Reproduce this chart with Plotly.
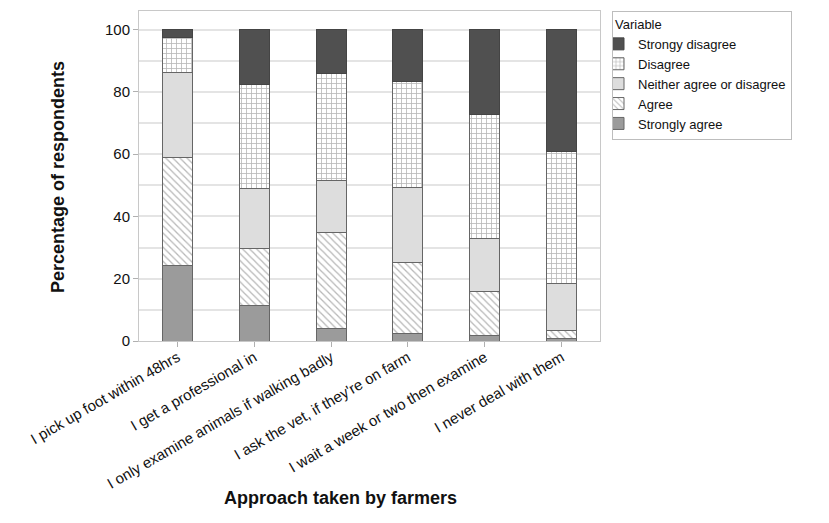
import plotly.graph_objects as go

approaches = [
    "I pick up foot within 48hrs",
    "I get a professional in",
    "I only examine animals if walking badly",
    "I ask the vet, if they're on farm",
    "I wait a week or two then examine",
    "I never deal with them",
]

strongly_agree = [24.4, 11.3, 4.1, 2.4, 1.9, 0.9]
agree = [34.4, 18.3, 30.8, 22.9, 14.0, 2.4]
neither = [27.6, 19.3, 16.5, 24.1, 17.1, 15.3]
disagree = [11.1, 33.6, 34.5, 34.0, 39.6, 42.2]
strongly_disagree = [2.5, 17.5, 14.1, 16.6, 27.4, 39.2]

edge = "#666666"
font = "Liberation Sans, Arial, sans-serif"

# page body has an 8px margin, so the figure is 8px smaller and shifted
W, H = 821, 515
L, T, R, B = 131, 3, 229, 182
pw, ph = W - L - R, H - T - B

fig = go.Figure()

fig.add_trace(go.Bar(x=approaches, y=strongly_agree, name="Strongly agree",
                     marker=dict(color="#9b9b9b", line=dict(color=edge, width=1))))
fig.add_trace(go.Bar(x=approaches, y=agree, name="Agree",
                     marker=dict(color="white", line=dict(color=edge, width=1),
                                 pattern=dict(shape="\\", fgcolor="#707070", bgcolor="white",
                                              size=5, solidity=0.25))))
fig.add_trace(go.Bar(x=approaches, y=neither, name="Neither agree or disagree",
                     marker=dict(color="#dddddd", line=dict(color=edge, width=1))))
fig.add_trace(go.Bar(x=approaches, y=disagree, name="Disagree",
                     marker=dict(color="white", line=dict(color=edge, width=1),
                                 pattern=dict(shape="+", fgcolor="#707070", bgcolor="white",
                                              size=5, solidity=0.3))))
fig.add_trace(go.Bar(x=approaches, y=strongly_disagree, name="Strongy disagree",
                     marker=dict(color="#505050", line=dict(color="#444444", width=1))))

fig.update_layout(
    width=W,
    height=H,
    barmode="stack",
    bargap=0.61,
    plot_bgcolor="white",
    paper_bgcolor="white",
    font=dict(family=font, size=14, color="#111111"),
    margin=dict(l=L, r=R, t=T, b=B, autoexpand=False),
    legend=dict(
        title=dict(text="Variable", font=dict(size=13)),
        traceorder="reversed",
        x=(612 - 139) / pw, xanchor="left", y=1.0, yanchor="top",
        bordercolor="#bdbdbd", borderwidth=1,
        font=dict(size=13),
        tracegroupgap=0,
        indentation=-15,
        entrywidth=180,
    ),
)

fig.update_xaxes(
    tickangle=-30,
    ticks="outside", ticklen=5, tickcolor="#b0b0b0",
    showline=True, linecolor="#c8c8c8", mirror=True,
    tickfont=dict(size=15),
    ticklabelstandoff=-4,
    automargin=False,
)
fig.update_yaxes(
    range=[0, 106],
    tickvals=[0, 20, 40, 60, 80, 100],
    ticks="outside", ticklen=5, tickcolor="#b0b0b0",
    showline=True, linecolor="#c8c8c8", mirror=True,
    showgrid=True, gridcolor="#e4e4e4", gridwidth=1.5,
    minor=dict(tickvals=[10, 30, 50, 70, 90], showgrid=True, gridcolor="#e4e4e4", gridwidth=1.5),
    zeroline=False,
    tickfont=dict(size=15),
    automargin=False,
)

fig.add_annotation(text="<b>Approach taken by farmers</b>", xref="paper", yref="paper",
                   x=(340 - 139) / pw, y=-(498 - 341) / ph, xanchor="center", yanchor="middle",
                   showarrow=False, font=dict(size=18))
fig.add_annotation(text="<b>Percentage of respondents</b>", xref="paper", yref="paper",
                   x=-(139 - 58) / pw, y=(341 - 177) / ph, xanchor="center", yanchor="middle",
                   textangle=-90, showarrow=False, font=dict(size=18))

fig.write_html("out.html")
